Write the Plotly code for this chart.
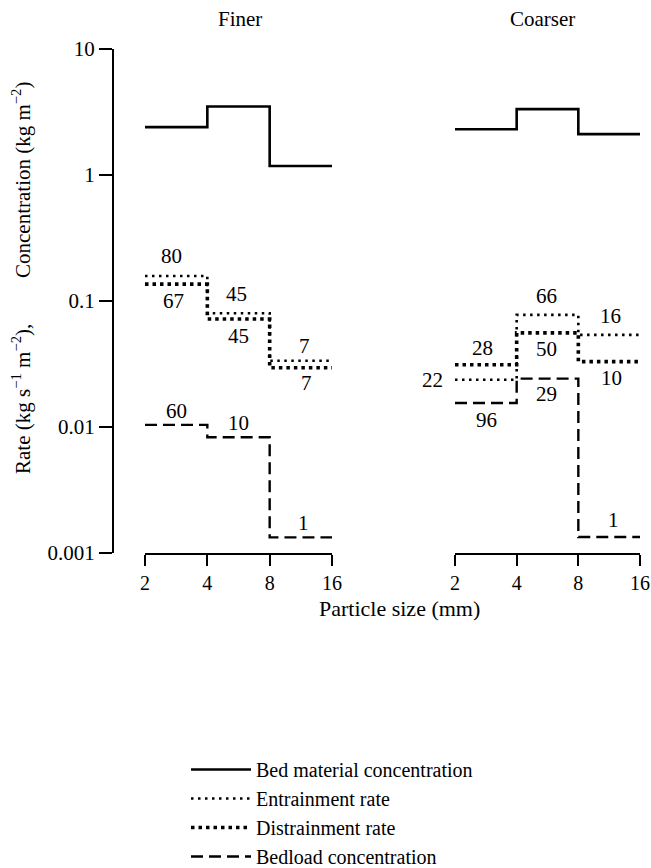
import math
import plotly.graph_objects as go

# ---------------- data ----------------
edges = [2, 4, 8, 16]  # particle size class edges (mm)
xtick_vals = [2, 4, 8, 16]
xtick_text = ["2", "4", "8", "16"]
ytick_vals = [0.001, 0.01, 0.1, 1, 10]
ytick_text = ["0.001", "0.01", "0.1", "1", "10"]
panels = ["Finer", "Coarser"]

# Finer panel
finer_bed = [2.4, 3.5, 1.18]
finer_entr = [0.158, 0.080, 0.0336]
finer_distr = [0.136, 0.072, 0.0295]
finer_bedload = [0.0104, 0.0083, 0.00133]
finer_entr_lbl = ["80", "45", "7"]
finer_distr_lbl = ["67", "45", "7"]
finer_bedload_lbl = ["60", "10", "1"]

# Coarser panel
coarser_bed = [2.31, 3.33, 2.11]
coarser_entr = [0.0237, 0.0776, 0.0538]
coarser_distr = [0.0312, 0.0558, 0.033]
coarser_bedload = [0.0155, 0.0242, 0.00134]
coarser_entr_lbl = ["22", "66", "16"]
coarser_distr_lbl = ["28", "50", "10"]
coarser_bedload_lbl = ["96", "29", "1"]

series_names = ["Bed material concentration", "Entrainment rate",
                "Distrainment rate", "Bedload concentration"]

# ---------------- styles ----------------
FONT = "Liberation Serif, Times New Roman, serif"
W, H = 651, 868
FS = 21
styles = {
    "Bed material concentration": dict(color="black", width=2.6, dash="solid"),
    "Entrainment rate": dict(color="black", width=2.6, dash="2.5px,4.5px"),
    "Distrainment rate": dict(color="black", width=3.6, dash="3.5px,4px"),
    "Bedload concentration": dict(color="black", width=2.4, dash="12px,6px"),
}

fig = go.Figure()

panel_data = [
    (finer_bed, finer_entr, finer_distr, finer_bedload),
    (coarser_bed, coarser_entr, coarser_distr, coarser_bedload),
]
axes = [("x", "y"), ("x2", "y2")]

for p, (vals_list, (xa, ya)) in enumerate(zip(panel_data, axes)):
    for name, vals in zip(series_names, vals_list):
        fig.add_trace(go.Scatter(
            x=edges, y=list(vals) + [vals[-1]], mode="lines",
            line=dict(shape="hv", **styles[name]),
            name=name, showlegend=(p == 0), legendgroup=name,
            xaxis=xa, yaxis=ya, hoverinfo="skip",
        ))

# ---------------- value labels ----------------
mids = [math.sqrt(edges[i] * edges[i + 1]) for i in range(3)]

label_sets = [
    # (xref, yref, values, labels, yshifts, xshifts)
    ("x", "y", finer_entr, finer_entr_lbl, [20, 19, 15], [-5, -2, 4]),
    ("x", "y", finer_distr, finer_distr_lbl, [-17, -17, -15], [-3, 0, 6]),
    ("x", "y", finer_bedload, finer_bedload_lbl, [14, 14, 14], [0, 0, 3]),
    ("x2", "y2", coarser_distr, coarser_distr_lbl, [17, -16, -16], [-3, -1, 2]),
    ("x2", "y2", coarser_entr, coarser_entr_lbl, [0, 19, 19], [0, -1, 1]),
    ("x2", "y2", coarser_bedload, coarser_bedload_lbl, [-17, -15, 17], [1, -1, 4]),
]
annotations = []
for xr, yr, vals, lbls, ysh, xsh in label_sets:
    for i, (v, t) in enumerate(zip(vals, lbls)):
        if xr == "x2" and i == 0 and vals is coarser_entr:
            annotations.append(dict(x=math.log10(edges[0]), y=math.log10(v), xref=xr, yref=yr,
                                    text=t, showarrow=False, xanchor="right", yanchor="middle",
                                    xshift=-10,
                                    font=dict(family=FONT, size=FS, color="black")))
            continue
        annotations.append(dict(x=math.log10(mids[i]), y=math.log10(v), xref=xr, yref=yr,
                                text=t, showarrow=False, xanchor="center", yanchor="middle",
                                yshift=ysh[i], xshift=xsh[i],
                                font=dict(family=FONT, size=FS, color="black")))

def paper_text(x, y, text, size=FS, angle=0):
    return dict(x=x / W, y=1 - y / H, xref="paper", yref="paper", text=text,
                showarrow=False, xanchor="center", yanchor="middle", textangle=angle,
                font=dict(family=FONT, size=size, color="black"))

# panel titles
annotations.append(paper_text(240, 19, panels[0]))
annotations.append(paper_text(542, 19, panels[1]))
# axis titles
annotations.append(paper_text(399, 608, "Particle size (mm)", size=22))
annotations.append(paper_text(21, 180, "Concentration (kg m<sup>\u22122</sup>)", angle=-90))
annotations.append(paper_text(21, 399, "Rate (kg s<sup>\u22121</sup> m<sup>\u22122</sup>),", angle=-90))

ydom = [1 - 553 / H, 1 - 49 / H]
xaxis_common = dict(type="log", range=[math.log10(edges[0]), math.log10(edges[-1])],
                    showline=True, linecolor="black", linewidth=2,
                    ticks="outside", ticklen=11, tickwidth=2, tickcolor="black",
                    tickvals=xtick_vals, ticktext=xtick_text, showgrid=False, zeroline=False,
                    ticklabeloverflow="allow",
                    tickfont=dict(family=FONT, size=20, color="black"), fixedrange=True)

fig.update_layout(
    width=W, height=H, margin=dict(l=0, r=0, t=0, b=0, autoexpand=False),
    paper_bgcolor="white", plot_bgcolor="white",
    xaxis=dict(domain=[145 / W, 332 / W], anchor="y", **xaxis_common),
    xaxis2=dict(domain=[455 / W, 640 / W], anchor="y2", **xaxis_common),
    yaxis=dict(type="log", range=[-3, 1], domain=ydom, anchor="free", position=113 / W,
               showline=True, linecolor="black", linewidth=2, ticks="outside", ticklen=13,
               tickwidth=2, tickcolor="black", tickvals=ytick_vals, ticktext=ytick_text,
               showgrid=False, zeroline=False, ticklabeloverflow="allow",
               tickfont=dict(family=FONT, size=FS, color="black")),
    yaxis2=dict(type="log", range=[-3, 1], domain=ydom, anchor="x2", matches="y",
                visible=False),
    showlegend=True,
    legend=dict(x=186 / W, y=1 - 750 / H, xanchor="left", yanchor="top",
                font=dict(family=FONT, size=20, color="black"), bgcolor="rgba(0,0,0,0)",
                itemwidth=60, tracegroupgap=0, traceorder="normal"),
    annotations=annotations,
)

fig.write_html("out.html", config={"displayModeBar": False},
               post_script="document.body.style.margin='0';document.body.style.overflow='hidden';")
